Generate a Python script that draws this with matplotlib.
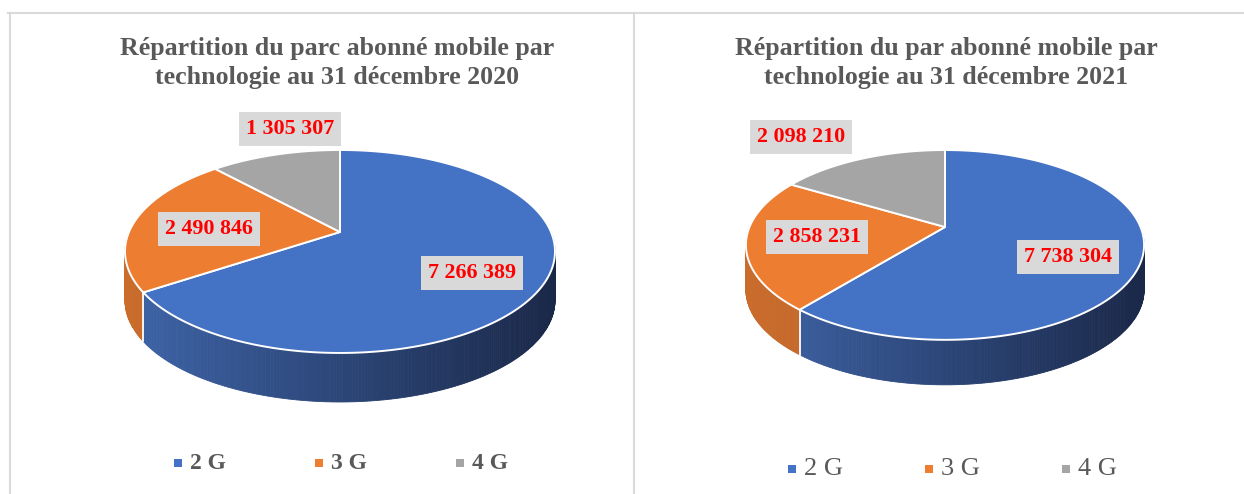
import numpy as np
import matplotlib
matplotlib.use("Agg")
import matplotlib.pyplot as plt
from matplotlib.colors import to_rgb

# ---------------- data ----------------
categories = ["2 G", "3 G", "4 G"]
values_2020 = [7266389, 2490846, 1305307]
values_2021 = [7738304, 2858231, 2098210]
titles = ["Répartition du parc abonné mobile par\ntechnologie au 31 décembre 2020",
          "Répartition du par abonné mobile par\ntechnologie au 31 décembre 2021"]

# ---------------- styles ----------------
top_colors = ["#4472c4", "#ed7d31", "#a5a5a5"]
wall_light = ["#3e64a8", "#c96c2c", "#8c8c8c"]
wall_dark = ["#1a2848", "#b05a22", "#707070"]
SERIF = ["Liberation Serif", "DejaVu Serif"]

W, H = 1244, 494
fig = plt.figure(figsize=(W / 100, H / 100), dpi=100)
ax = fig.add_axes([0, 0, 1, 1])
ax.set_xlim(0, W)
ax.set_ylim(H, 0)
ax.axis("off")


def fmt(v):
    return f"{v:,}".replace(",", " ")


def proj(g, X, Y):
    d = 1 + g["s"] * Y
    return g["cx"] + g["rx"] * X / d, (g["p"] * Y + g["q"]) / d


def pie3d(g, values):
    vals = np.asarray(values, float)
    frac = vals / vals.sum()
    edges = np.concatenate([[0], np.cumsum(frac) * 360])
    xmin, xmax = g["cx"] - g["rx"] * 1.02, g["cx"] + g["rx"] * 1.02
    t = g["t"]
    # side walls (front half only)
    for i in range(len(vals)):
        a, b = max(edges[i], 90), min(edges[i + 1], 270)
        if b <= a:
            continue
        th = np.radians(np.linspace(a, b, max(int((b - a) * 1.5), 2)))
        xs, ys = proj(g, np.sin(th), -np.cos(th))
        cl, cd = np.array(to_rgb(wall_light[i])), np.array(to_rgb(wall_dark[i]))
        for k in range(len(th) - 1):
            u = ((xs[k] + xs[k + 1]) / 2 - xmin) / (xmax - xmin)
            u = np.clip(u, 0, 1)
            c = cl * (1 - u) + cd * u
            ax.fill([xs[k], xs[k + 1], xs[k + 1], xs[k]],
                    [ys[k], ys[k + 1], ys[k + 1] + t, ys[k] + t],
                    color=c, lw=0.6, ec=c, zorder=2)
    # white lines at wall boundaries
    for e in edges:
        if 90 < e < 270:
            r = np.radians(e)
            x0, y0 = proj(g, np.sin(r), -np.cos(r))
            ax.plot([x0, x0], [y0, y0 + t], color="white", lw=1.3, zorder=3)
    # top faces
    for i in range(len(vals)):
        th = np.radians(np.linspace(edges[i], edges[i + 1], 200))
        xs, ys = proj(g, np.sin(th), -np.cos(th))
        ax0, ay0 = proj(g, 0.0, 0.0)
        ax.fill(np.concatenate([[ax0], xs]), np.concatenate([[ay0], ys]),
                color=top_colors[i], ec="white", lw=1.4, joinstyle="round", zorder=4)


charts = [
    dict(cx=340, q=232, p=53.2, s=-0.192, rx=211, t=49,
         title_xy=(337, 63), labels=[(472, 273), (209, 229), (290, 129)],
         leg_x=[178, 319, 460], leg_y=463, leg_bold=True, leg_fs=17),
    dict(cx=945, q=227, p=48.6, s=-0.189, rx=195.5, t=45,
         title_xy=(946, 63), labels=[(1068, 257), (817, 237), (801, 137)],
         leg_x=[792, 929, 1066], leg_y=469, leg_bold=False, leg_fs=19),
]
data = [values_2020, values_2021]

for g, vals, title in zip(charts, data, titles):
    pie3d(g, vals)
    ax.text(*g["title_xy"], title, ha="center", va="center", fontsize=18.6,
            fontweight="bold", color="#595959", family=SERIF, linespacing=1.28, zorder=6)
    for (lx, ly), v in zip(g["labels"], vals):
        ax.text(lx, ly, fmt(v), ha="center", va="center", fontsize=15.8,
                fontweight="bold", color="#ff0000", family=SERIF, zorder=7,
                bbox=dict(boxstyle="square,pad=0.3", fc="#d9d9d9", ec="none"))
    for i, (cat, lx) in enumerate(zip(categories, g["leg_x"])):
        ax.scatter([lx], [g["leg_y"]], marker="s", s=36, color=top_colors[i],
                   lw=0, zorder=6)
        ax.text(lx + 12, g["leg_y"], cat, ha="left", va="center", fontsize=g["leg_fs"],
                fontweight="bold" if g["leg_bold"] else "normal",
                color="#595959", family=SERIF, zorder=6)

# panel borders
bc = "#d9d9d9"
ax.plot([8, W], [13, 13], color=bc, lw=1.5, zorder=1)
ax.plot([10, 10], [13, H], color=bc, lw=1.5, zorder=1)
ax.plot([634, 634], [13, H], color=bc, lw=1.5, zorder=1)

fig.savefig("out.png", dpi=100)
